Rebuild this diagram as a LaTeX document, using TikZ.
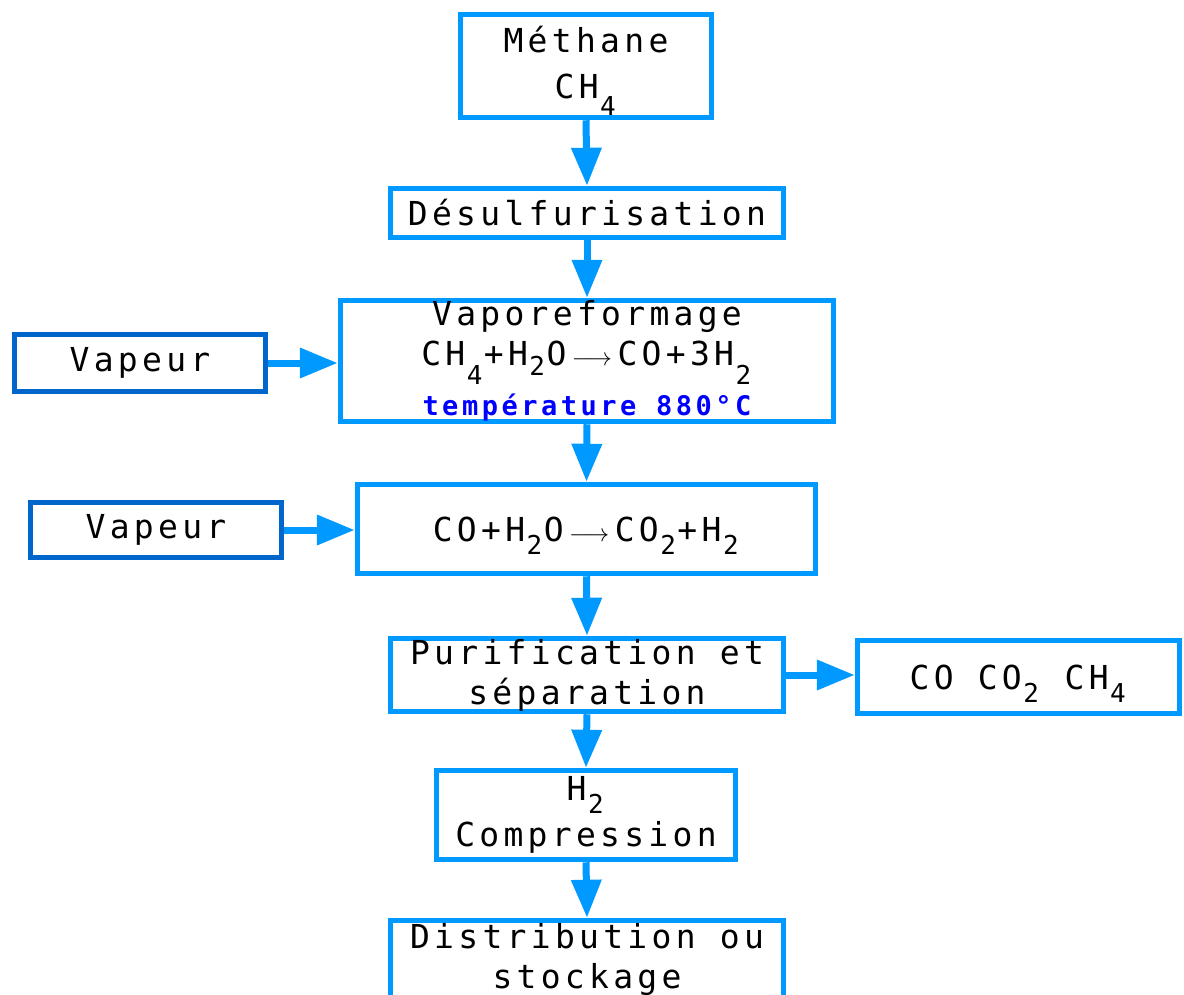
\documentclass[tikz,border=0pt]{standalone}
\usepackage{fontspec}
\setmainfont{DejaVu Sans Mono}[LetterSpace=13]
\usetikzlibrary{arrows.meta}
\definecolor{flow}{RGB}{0,153,255}
\definecolor{vap}{RGB}{0,102,204}
\definecolor{temp}{RGB}{0,0,255}
\newcommand{\chsub}[2][13pt]{\kern1.5pt\raisebox{-#1}[0pt][0pt]{\fontsize{26}{26}\selectfont #2}\kern1.5pt\relax}
\newcommand{\reacarrow}{\,$\longrightarrow$\,}
\tikzset{
  box/.style={draw=flow, line width=5.5pt, fill=white, inner sep=0pt, align=center,
    font=\fontsize{33}{40}\selectfont},
  vapbox/.style={box, draw=vap},
  flowarrow/.style={draw=flow, line width=7pt, -{Triangle[length=38pt,width=29pt]}},
}
\begin{document}
\begin{tikzpicture}[x=1pt,y=-1pt]
\useasboundingbox (0,0) rectangle (1184,994);
\node[box, minimum width=251pt, minimum height=103pt] (meth) at (586,66)
  {Méthane\\[6pt]CH\chsub[17pt]{4}\vphantom{Ég}};
\node[box, minimum width=393pt, minimum height=49pt] (desu) at (587,213)
  {Désulfurisation};
\node[box, minimum width=493pt, minimum height=121pt] (vapo) at (587,361)
  {Vaporeformage\\[0pt]CH\chsub[19pt]{4}+H\chsub[10pt]{2}O\reacarrow CO+3H\chsub[19pt]{2}\\[10pt]
   {\fontsize{27}{27}\selectfont\bfseries\color{temp}température 880°C}};
\node[vapbox, minimum width=251pt, minimum height=57pt] (vap1) at (140,363) {Vapeur};
\node[box, minimum width=458pt, minimum height=89pt] (shift) at (586.5,529)
  {CO+H\chsub{2}O\reacarrow CO\chsub{2}+H\chsub{2}};
\node[vapbox, minimum width=251pt, minimum height=55pt] (vap2) at (156,530) {Vapeur};
\node[box, minimum width=393pt, minimum height=73pt] (puri) at (587,675)
  {\fontsize{33}{36}\selectfont Purification et\\séparation};
\node[box, minimum width=322pt, minimum height=73pt] (rest) at (1018.5,677)
  {CO CO\chsub{2} CH\chsub{4}};
\node[box, minimum width=299pt, minimum height=89pt] (comp) at (586,815)
  {H\chsub{2}\\[6pt]Compression};
\node[box, minimum width=393pt, minimum height=77pt] (dist) at (587,959)
  {\fontsize{33}{36}\selectfont Distribution ou\\stockage};
\draw[flowarrow] (meth.south) -- (desu.north);
\draw[flowarrow] (desu.south) -- (vapo.north);
\draw[flowarrow] (vapo.south) -- (shift.north);
\draw[flowarrow] (shift.south) -- (puri.north);
\draw[flowarrow] (puri.south) -- (comp.north);
\draw[flowarrow] (comp.south) -- (dist.north);
\draw[flowarrow] (vap1.east) -- (vap1.east -| vapo.west);
\draw[flowarrow] (vap2.east) -- (vap2.east -| shift.west);
\draw[flowarrow] (puri.east) -- (puri.east -| rest.west);
\end{tikzpicture}
\end{document}
